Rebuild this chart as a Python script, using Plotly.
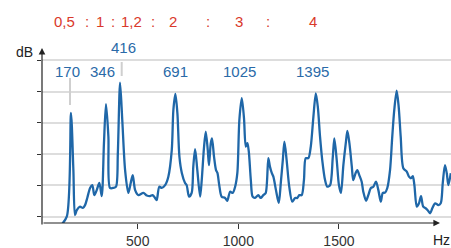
import plotly.graph_objects as go

# Spectrum: frequency (Hz) and level (dB)
freq_hz = [114, 147, 168, 180, 188, 197, 213, 227, 238, 249, 263, 274, 284, 296, 309, 321,
           332, 342, 354, 362, 379, 392, 401, 412, 423, 437, 453, 465, 475, 487, 503, 528,
           545, 561, 574, 586, 594, 607, 619, 636, 652, 669, 677, 687, 697, 707, 719, 735,
           743, 755, 768, 776, 785, 796, 810, 818, 829, 838, 848, 854, 863, 869, 879, 889,
           896, 905, 917, 934, 945, 959, 972, 984, 995, 1005, 1017, 1028, 1037, 1045, 1052, 1062,
           1071, 1083, 1099, 1111, 1124, 1136, 1149, 1157, 1166, 1174, 1187, 1201, 1211, 1221, 1229, 1240,
           1253, 1268, 1282, 1293, 1303, 1315, 1326, 1335, 1348, 1360, 1373, 1385, 1395, 1406, 1417, 1431,
           1442, 1456, 1469, 1477, 1489, 1500, 1510, 1522, 1534, 1542, 1552, 1564, 1571, 1583, 1591, 1601,
           1613, 1621, 1635, 1646, 1658, 1671, 1684, 1696, 1708, 1718, 1729, 1740, 1754, 1765, 1775, 1787,
           1797, 1807, 1820, 1837, 1848, 1858, 1867, 1875, 1887, 1898, 1908, 1919, 1931, 1941, 1953, 1964,
           1978, 1994, 2006, 2016, 2027, 2036, 2044, 2056]
level_db = [-3.0, 0.0, 33.2, 14.9, 0.5, 2.1, 3.2, 2.8, 3.7, 6.0, 9.2, 10.1, 6.9, 8.5, 10.8, 6.6,
            23.5, 36.0, 25.6, 9.2, 9.2, 9.6, 20.4, 42.8, 30.9, 14.9, 7.6, 10.8, 13.3, 8.5, 6.9, 7.6,
            6.8, 6.6, 6.9, 6.0, 5.3, 9.6, 9.2, 10.1, 12.8, 21.3, 34.1, 39.2, 33.1, 19.2, 14.0, 10.8,
            10.1, 6.4, 7.6, 16.0, 21.6, 14.9, 6.4, 11.7, 21.9, 27.2, 21.3, 16.5, 23.5, 25.0, 19.2, 14.9,
            14.0, 10.1, 6.4, 6.0, 5.1, 8.0, 7.6, 9.6, 14.0, 30.9, 37.9, 31.5, 22.4, 23.5, 20.8, 11.7,
            6.4, 6.0, 6.9, 6.0, 6.9, 7.6, 18.7, 16.0, 14.0, 12.8, 8.5, 4.4, 10.8, 18.1, 24.0, 18.1,
            9.6, 4.8, 6.0, 6.0, 6.9, 6.9, 11.7, 18.7, 18.7, 22.4, 31.9, 39.4, 35.1, 25.6, 18.1, 11.7,
            9.6, 10.1, 18.7, 25.0, 18.1, 10.1, 7.6, 16.5, 23.5, 27.4, 23.5, 16.0, 11.7, 14.0, 14.9, 13.3,
            11.2, 8.0, 5.1, 6.9, 9.1, 9.6, 11.2, 8.5, 4.8, 7.6, 7.7, 9.1, 14.9, 25.6, 34.1, 40.3,
            35.1, 25.6, 15.5, 14.4, 12.8, 12.3, 13.0, 10.1, 3.2, 4.3, 6.6, 3.2, 2.7, 2.1, 1.1, 2.7,
            4.3, 3.7, 4.3, 10.7, 16.5, 13.9, 10.1, 13.9]

x_ticks = [500, 1000, 1500]
grid_db = [0, 10, 20, 30, 40, 50]

peak_labels = ["170", "346", "416", "691", "1025", "1395"]
peak_px = [67, 102, 123, 175, 239, 312]
peak_py = [71, 71, 47, 71, 71, 71]

ratio_parts = ["0,5", ":", "1", ":", "1,2", ":", "2", ":", "3", ":", "4"]
ratio_px = [64, 87, 100, 113, 131, 153, 173, 208, 239, 268, 313]

W, H = 451, 248
L, R, T, B = 42, 0, 40, 25
PW, PH = W - L - R, H - T - B

def px2x(px):
    return (px - L) / PW

def py2y(py):
    return (H - B - py) / PH

BLUE = "#1f67a8"
RED = "#d9392b"

fig = go.Figure()
fig.add_trace(go.Scatter(x=freq_hz, y=level_db, mode="lines",
                         line=dict(color=BLUE, width=2.3, shape="spline", smoothing=0.8),
                         hoverinfo="skip", showlegend=False))

# grey marker lines above two peaks
fig.add_shape(type="line", xref="paper", yref="paper",
              x0=px2x(70), x1=px2x(70), y0=py2y(78), y1=py2y(105),
              line=dict(color="#cfcfcf", width=2))
fig.add_shape(type="line", xref="paper", yref="paper",
              x0=px2x(121.7), x1=px2x(121.7), y0=py2y(62), y1=py2y(76),
              line=dict(color="#cfcfcf", width=2))

ann = []
# axes arrows
ann.append(dict(xref="paper", yref="paper", x=px2x(440), y=py2y(223), ax=-398, ay=0,
                showarrow=True, arrowhead=2, arrowsize=1.1, arrowwidth=1.2, arrowcolor="#222", text=""))
ann.append(dict(xref="paper", yref="paper", x=px2x(42), y=py2y(48), ax=0, ay=178,
                showarrow=True, arrowhead=2, arrowsize=1.1, arrowwidth=1.2, arrowcolor="#222", text=""))
ann.append(dict(xref="paper", yref="paper", x=px2x(24), y=py2y(52), text="dB", showarrow=False,
                font=dict(size=14, color="#222", family="Liberation Sans, Arial"),
                xanchor="center", yanchor="middle"))
ann.append(dict(xref="paper", yref="paper", x=px2x(441), y=py2y(240), text="Hz", showarrow=False,
                font=dict(size=14, color="#222", family="Liberation Sans, Arial"),
                xanchor="center", yanchor="middle"))
for t, x, y in zip(peak_labels, peak_px, peak_py):
    ann.append(dict(xref="paper", yref="paper", x=px2x(x), y=py2y(y), text=t, showarrow=False,
                    font=dict(size=15, color="#2a6aa8", family="Liberation Sans, Arial"),
                    xanchor="center", yanchor="middle"))
for t, x in zip(ratio_parts, ratio_px):
    ann.append(dict(xref="paper", yref="paper", x=px2x(x), y=py2y(21), text=t, showarrow=False,
                    font=dict(size=15, color=RED, family="Liberation Sans, Arial"),
                    xanchor="center", yanchor="middle"))

fig.update_layout(
    width=W, height=H, margin=dict(l=L, r=R, t=T, b=B),
    paper_bgcolor="white", plot_bgcolor="white",
    annotations=ann,
    xaxis=dict(range=[24, 2057], tickvals=x_ticks, ticks="outside", ticklen=5, tickcolor="#333",
               showgrid=False, zeroline=False, showline=False,
               tickfont=dict(size=14, color="#333", family="Liberation Sans, Arial")),
    yaxis=dict(range=[-2.0, 56.45], tickvals=grid_db, showticklabels=False, ticks="outside",
               ticklen=4, tickcolor="#333", showgrid=True, gridcolor="#dddddd", gridwidth=1.5,
               zeroline=False, showline=False),
)
fig.write_html("out.html", config={"displayModeBar": False},
               post_script="document.body.style.margin='0px';document.body.style.overflow='hidden';")
